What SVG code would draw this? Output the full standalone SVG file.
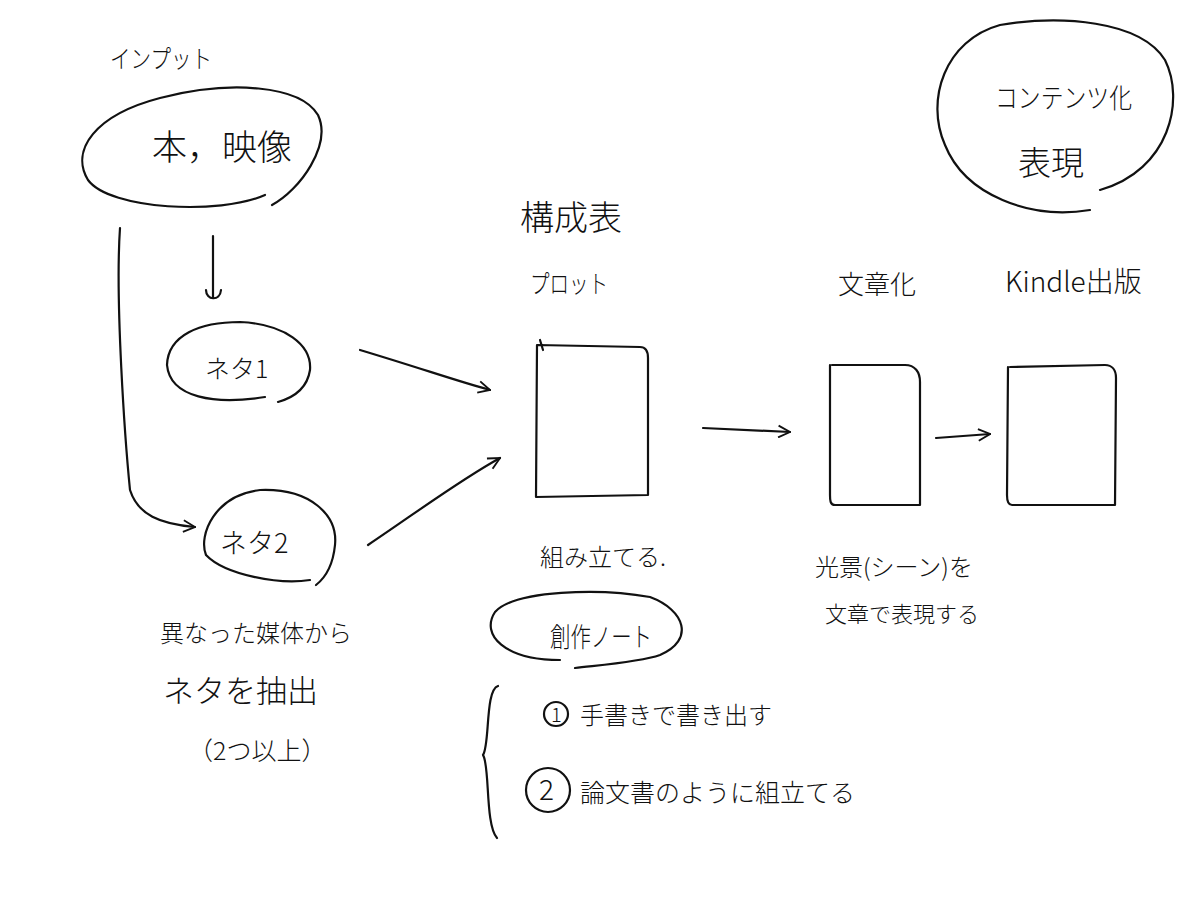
<svg xmlns="http://www.w3.org/2000/svg" width="1200" height="915" viewBox="0 0 1200 915">
<style>
.s{fill:none;stroke:#111;stroke-width:2.2;stroke-linecap:round;stroke-linejoin:round}
.t{font-family:"Noto Sans CJK JP","Noto Sans",sans-serif;fill:#111;font-weight:300}
</style>
<defs>
<marker id="ah" viewBox="0 0 12 12" refX="11" refY="6" markerWidth="14" markerHeight="14" markerUnits="userSpaceOnUse" orient="auto">
<path d="M1,1 L11,6 L1,11" fill="none" stroke="#111" stroke-width="1.6"/>
</marker>
</defs>
<rect width="1200" height="915" fill="#fff"/>

<text class="t" x="110" y="68" font-size="25" textLength="102" lengthAdjust="spacingAndGlyphs">インプット</text>

<g id="input">
<path class="s" d="M265,195 C220,215 110,210 88,180 C70,150 95,115 160,98 C230,80 300,85 318,115 C332,145 300,190 272,205"/>
<text class="t" x="152" y="160" font-size="35">本，映像</text>
</g>

<g id="content">
<path class="s" d="M1100,190 C1170,170 1185,100 1165,60 C1140,20 1060,15 1000,25 C945,40 925,100 945,145 C965,195 1030,220 1090,210"/>
<text class="t" x="995" y="108" font-size="27" textLength="137" lengthAdjust="spacingAndGlyphs">コンテンツ化</text>
<text class="t" x="1018" y="175" font-size="33">表現</text>
</g>

<g id="neta1">
<path class="s" d="M265,397 C215,405 170,398 167,365 C168,335 200,322 240,322 C285,324 312,345 310,370 C307,390 292,398 278,402"/>
<text class="t" x="205" y="378" font-size="25">ネタ1</text>
</g>

<g id="neta2">
<path class="s" d="M310,580 C280,585 225,575 206,555 C198,535 215,495 260,490 C310,488 338,515 335,545 C333,565 325,578 316,585"/>
<text class="t" x="220" y="553" font-size="27">ネタ2</text>
</g>

<text class="t" x="160" y="642" font-size="24">異なった媒体から</text>
<text class="t" x="163" y="702" font-size="31">ネタを抽出</text>
<text class="t" x="188" y="760" font-size="25">（2つ以上）</text>

<g id="plot">
<text class="t" x="520" y="230" font-size="34">構成表</text>
<text class="t" x="530" y="293" font-size="25" textLength="78" lengthAdjust="spacingAndGlyphs">プロット</text>
<path class="s" d="M540,340 L543,350 M537,345 L640,347 C646,347 648,352 648,358 L648,495 L536,497 L537,345"/>
<text class="t" x="540" y="566" font-size="24">組み立てる.</text>
</g>

<g id="note">
<path class="s" d="M560,660 C505,660 480,635 495,612 C515,590 600,588 650,597 C685,610 695,640 660,655 C640,662 600,665 575,668"/>
<text class="t" x="550" y="647" font-size="27" textLength="102" lengthAdjust="spacingAndGlyphs">創作ノート</text>
<path class="s" d="M498,686 C485,690 490,745 483,755 C490,765 485,825 497,838"/>
<circle class="s" cx="556" cy="714" r="12"/>
<text class="t" x="551" y="722" font-size="20">1</text>
<text class="t" x="580" y="724" font-size="24">手書きで書き出す</text>
<circle class="s" cx="548" cy="790" r="22"/>
<text class="t" x="539" y="800" font-size="28">2</text>
<text class="t" x="580" y="802" font-size="25">論文書のように組立てる</text>
</g>

<g id="bunsho">
<text class="t" x="838" y="294" font-size="26">文章化</text>
<path class="s" d="M832,365 L905,365 C915,365 920,372 920,382 L920,505 L835,505 C830,505 830,500 830,495 L830,365"/>
<text class="t" x="815" y="576" font-size="24">光景(シーン)を</text>
<text class="t" x="825" y="622" font-size="22">文章で表現する</text>
</g>

<g id="kindle">
<text class="t" x="1005" y="292" font-size="28">Kindle出版</text>
<path class="s" d="M1010,367 L1105,365 C1112,365 1116,370 1116,378 L1115,505 L1012,505 C1008,505 1007,500 1007,495 L1008,367"/>
</g>

<g id="connectors">
<path class="s" d="M213,236 L213,298" />
<path class="s" d="M206,290 C206,300 220,302 221,290"/>
<path class="s" d="M120,228 C115,300 125,440 130,490 C138,515 160,524 195,527" marker-end="url(#ah)"/>
<path class="s" d="M360,350 C420,368 460,382 490,390" marker-end="url(#ah)"/>
<path class="s" d="M368,545 C420,510 460,480 500,458" marker-end="url(#ah)"/>
<path class="s" d="M703,428 L790,432" marker-end="url(#ah)"/>
<path class="s" d="M936,438 L990,434" marker-end="url(#ah)"/>
</g>
</svg>
